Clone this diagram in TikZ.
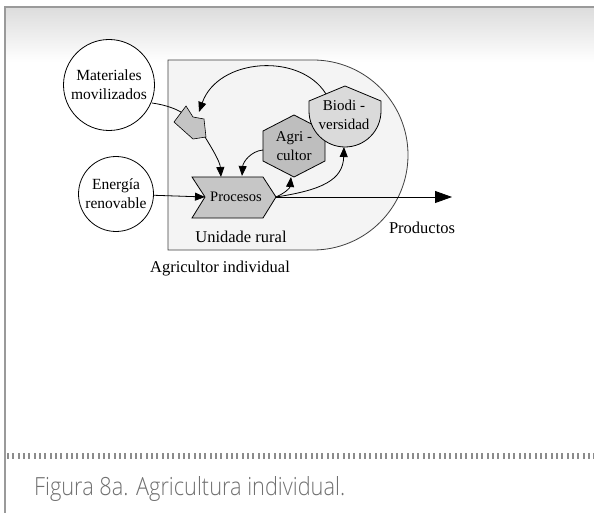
\documentclass[tikz,border=0pt]{standalone}
\usepackage{fontspec}
\setmainfont{Liberation Serif}
\newfontfamily\capfont[FakeStretch=0.87]{Open Sans Light}
\usetikzlibrary{arrows.meta}

\definecolor{bandtop}{HTML}{DCDCDC}
\definecolor{framegray}{HTML}{9A9A9A}
\definecolor{tickgray}{HTML}{8C8C8C}
\definecolor{capgray}{HTML}{707070}
\definecolor{boxfill}{HTML}{F4F4F4}
\definecolor{boxline}{HTML}{404040}
\definecolor{procfill}{HTML}{C6C6C6}
\definecolor{agrifill}{HTML}{BEBEBE}
\definecolor{shieldfill}{HTML}{C4C4C4}
\definecolor{biofill}{HTML}{DADADA}

\tikzset{
  lbl/.style={font=\fontsize{15}{19}\selectfont, align=center, inner sep=0pt},
  biglbl/.style={font=\fontsize{16.5}{20}\selectfont, inner sep=0pt},
  srcnode/.style={circle, draw=black, line width=0.8pt, fill=white, inner sep=0pt,
                  font=\fontsize{15.5}{19}\selectfont, align=center},
  shapeline/.style={draw=black, line width=0.8pt},
  flow/.style={draw=black, line width=0.8pt, -{Triangle[length=10pt, width=8pt]}},
  plain/.style={draw=black, line width=0.8pt},
  outflow/.style={draw=black, line width=0.8pt, -{Triangle[length=17pt, width=12pt]}}
}

\begin{document}
\begin{tikzpicture}[x=1pt, y=-1pt]
\useasboundingbox (0,0) rectangle (594,513);
\fill[white] (0,0) rectangle (594,513);

% page frame: shaded band, top rule and left rule
\shade[top color=bandtop, bottom color=white] (5,7) rectangle (594,62);
\draw[framegray, line width=2pt] (4,7) -- (594,7);
\draw[framegray, line width=1.2pt] (5,7) -- (5,513);

% tick rule above the caption
\foreach \i in {0,...,110} {
  \fill[tickgray] ({7+5.33*\i},453) rectangle ++(2,6);
}
\node[anchor=base west, font=\capfont\fontsize{25}{30}\selectfont, text=capgray, inner sep=0pt]
  (cap) at (34,495) {Figura 8a. Agricultura individual.};

% the rural unit (rectangle closed by a half disc)
\filldraw[fill=boxfill, draw=boxline, line width=0.8pt]
  (313,60) -- (168,60) -- (168,250) -- (313,250)
  arc[start angle=90, end angle=-90, radius=95] -- cycle;

% external sources
\node[srcnode, minimum size=91pt] (mat) at (109,85) {Materiales\\movilizados};
\node[srcnode, minimum size=75pt] (ene) at (116,194) {Energía\\renovable};

% anchor points on the drawn shapes
\coordinate (matout) at (152,103);
\coordinate (shin) at (184,114);
\coordinate (shtop) at (199,112);
\coordinate (shout) at (205,137);
\coordinate (prnotch) at (205,197);
\coordinate (prtop1) at (221,177);
\coordinate (prtop2) at (242,176);
\coordinate (prtip) at (276,197);
\coordinate (agleft) at (263,150);
\coordinate (agbot) at (291,177);
\coordinate (biobot) at (344,147);
\coordinate (bioleft) at (326,94);
\coordinate (prodend) at (452,197);

% material inflow into the small collector
\draw[plain] (matout) .. controls (166,105) and (177,109) .. (shin);

% collector
\filldraw[fill=shieldfill, draw=black, line width=0.6pt]
  (186,106) -- (193,117) -- (204,119) -- (206,137) -- (193,139) -- (174,122) -- cycle;

% processes
\filldraw[fill=procfill, shapeline]
  (192,177) -- (263,177) -- (276,197) -- (263,218) -- (192,218) -- (205,197) -- cycle;
\node[font=\fontsize{14.5}{18}\selectfont, inner sep=0pt] (proc) at (236,197) {Procesos};

% farmer
\filldraw[fill=agrifill, shapeline]
  (294,115) -- (325,131) -- (325,161) -- (294,177) -- (263,161) -- (263,131) -- cycle;
\node[lbl] (agri) at (294,146) {Agri -\\cultor};

% biodiversity
\filldraw[fill=biofill, shapeline]
  (309,101) -- (309,111) arc[start angle=180, end angle=0, radius=36]
  -- (381,101) -- (345,86) -- cycle;
\node[lbl] (bio) at (344,115) {Biodi -\\versidad};

% flows
\draw[flow] (ene) -- (prnotch);
\draw[outflow] (prtip) -- (prodend);
\draw[flow] (shout) .. controls (213,150) and (220,162) .. (prtop1);
\draw[flow] (agleft) .. controls (251,151) and (243,162) .. (prtop2);
\draw[flow] (prtip) .. controls (285,193) and (290,188) .. (agbot);
\draw[flow] (prtip) .. controls (322,190) and (343,180) .. (biobot);
\draw[flow] (bioleft) .. controls (300,52) and (218,58) .. (shtop);

% labels
\node[biglbl] (unit) at (241,237) {Unidade rural};
\node[biglbl] (prod) at (422,228) {Productos};
\node[biglbl] (farm) at (220,269) {Agricultor individual};
\end{tikzpicture}
\end{document}
